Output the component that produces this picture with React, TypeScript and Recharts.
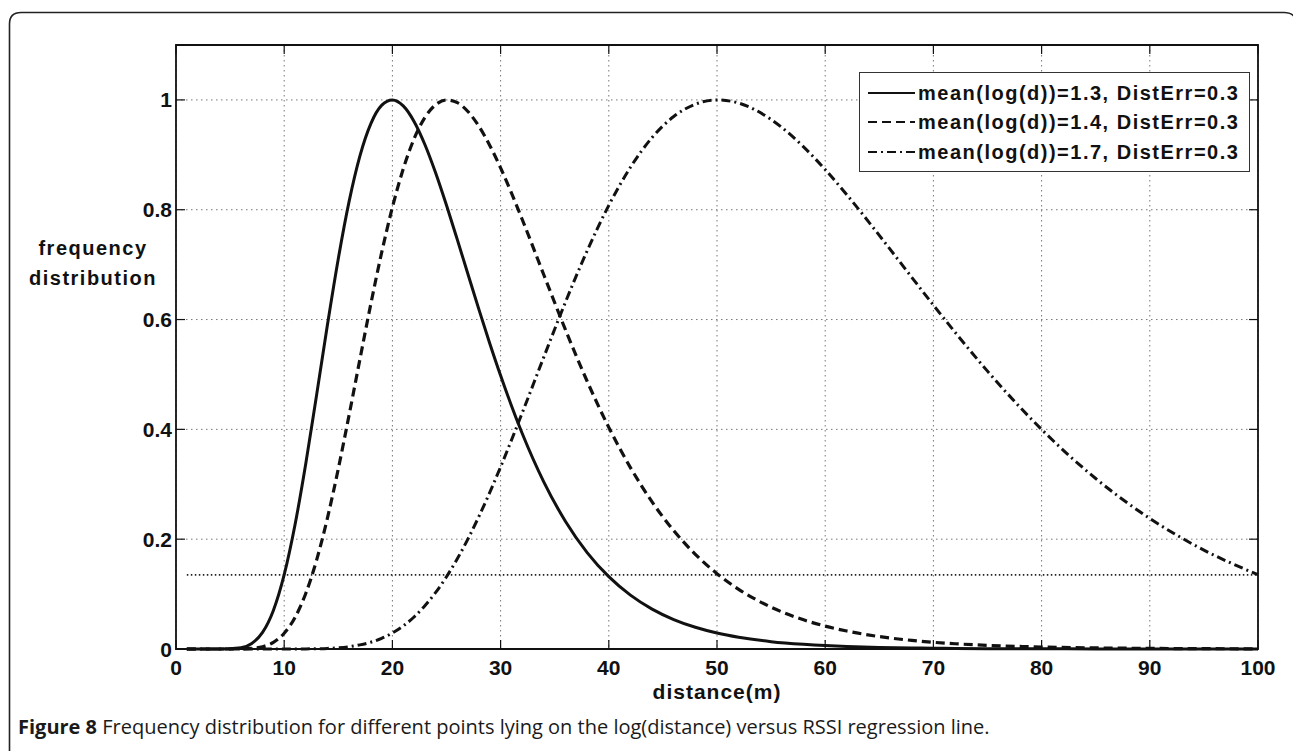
import React from 'react';
import {
  LineChart,
  Line,
  XAxis,
  YAxis,
  CartesianGrid,
  ReferenceArea,
  ReferenceLine,
  Legend,
  Label,
} from 'recharts';

// Sampled distances (m) and the normalised frequency of each curve at those distances
const distance = [
  1, 4, 6, 7, 8, 9, 10, 11, 12, 13, 14, 15, 16, 17, 18, 19, 20, 21, 22, 23, 24, 25, 26, 27, 28, 29, 30,
  32, 34, 36, 38, 40, 42, 44, 46, 48, 50, 52, 55, 58, 60, 62, 65, 68, 70, 72, 75, 78, 80, 85, 90, 95, 100,
];

const meanLog13 = [
  0, 0, 0.0024, 0.0101, 0.0302, 0.0702, 0.1353, 0.2262, 0.3384, 0.4633, 0.5909, 0.7109, 0.8152, 0.8981,
  0.9565, 0.99, 1.0, 0.9891, 0.9608, 0.9188, 0.8668, 0.808, 0.7455, 0.6815, 0.618, 0.5565, 0.498,
  0.3925, 0.304, 0.2323, 0.1756, 0.1317, 0.0981, 0.0727, 0.0537, 0.0396, 0.0291, 0.0214, 0.0134, 0.0085,
  0.0062, 0.0046, 0.0029, 0.0018, 0.0014, 0.001, 0.0006, 0.0004, 0.0003, 0.0002, 0.0001, 0, 0,
];

const meanLog14 = [
  0, 0, 0.0002, 0.0011, 0.0041, 0.0121, 0.0286, 0.0574, 0.1015, 0.1623, 0.2388, 0.3282, 0.4263, 0.5279,
  0.6278, 0.7213, 0.8044, 0.8742, 0.929, 0.968, 0.9913, 0.9999, 0.995, 0.9784, 0.9518, 0.9171, 0.8762,
  0.7822, 0.6811, 0.5811, 0.4876, 0.4036, 0.3304, 0.2679, 0.2156, 0.1724, 0.1372, 0.1087, 0.0762, 0.0531,
  0.0417, 0.0327, 0.0226, 0.0157, 0.0122, 0.0096, 0.0066, 0.0046, 0.0036, 0.002, 0.0011, 0.0006, 0.0003,
];

const meanLog17 = [
  0, 0, 0, 0, 0, 0, 0, 0.0001, 0.0002, 0.0005, 0.0011, 0.0022, 0.0042, 0.0075, 0.0123, 0.0194, 0.0291,
  0.0419, 0.0583, 0.0787, 0.103, 0.1316, 0.1644, 0.2011, 0.2416, 0.2852, 0.3316, 0.4301, 0.532, 0.632,
  0.7253, 0.808, 0.8773, 0.9314, 0.9697, 0.9922, 1.0, 0.9943, 0.9644, 0.9145, 0.8731, 0.8272, 0.7533,
  0.6769, 0.6263, 0.5769, 0.5061, 0.4404, 0.3999, 0.3105, 0.2378, 0.1801, 0.1353,
];

const seriesLabels = [
  'mean(log(d))=1.3, DistErr=0.3',
  'mean(log(d))=1.4, DistErr=0.3',
  'mean(log(d))=1.7, DistErr=0.3',
];

const xTicks = [0, 10, 20, 30, 40, 50, 60, 70, 80, 90, 100];
const yTicks = [0, 0.2, 0.4, 0.6, 0.8, 1];

// horizontal dotted level drawn across the range
const levelValue = 0.135;
const levelFrom = 1;
const levelTo = 100;

const captionBold = 'Figure 8';
const captionText =
  ' Frequency distribution for different points lying on the log(distance) versus RSSI regression line.';

const rows = distance.map((d, i) => ({
  d,
  s13: meanLog13[i],
  s14: meanLog14[i],
  s17: meanLog17[i],
}));

const W = 1293;
const H = 751;
const MARGIN = { top: 45, right: 35, bottom: 101, left: 175 };
const PLOT = {
  left: 176,
  right: W - MARGIN.right,
  top: MARGIN.top,
  bottom: 649,
};

const INK = '#111';
const AXIS_FONT = '"Liberation Sans", Arial, Helvetica, sans-serif';

const seriesStyles = [
  { key: 's13', dash: undefined as string | undefined, width: 3 },
  { key: 's14', dash: '9 5', width: 3.2 },
  { key: 's17', dash: '9 4 2 4', width: 3 },
];

const TICK_LEN = 9;

const XTick = (props: any) => {
  const cx = props.payload?.coordinate ?? props.x;
  const v = props.payload?.value;
  return (
    <g>
      <line x1={cx} x2={cx} y1={PLOT.bottom} y2={PLOT.bottom - TICK_LEN} stroke={INK} strokeWidth={1.2} />
      <line x1={cx} x2={cx} y1={PLOT.top} y2={PLOT.top + TICK_LEN} stroke={INK} strokeWidth={1.2} />
      <text
        x={cx}
        y={PLOT.bottom + 26}
        textAnchor="middle"
        fontFamily={AXIS_FONT}
        fontWeight="bold"
        fontSize={21}
        fill={INK}
      >
        {String(v)}
      </text>
    </g>
  );
};

const YTick = (props: any) => {
  const cy = props.payload?.coordinate ?? props.y;
  const v = props.payload?.value;
  return (
    <g>
      <line x1={PLOT.left} x2={PLOT.left + TICK_LEN} y1={cy} y2={cy} stroke={INK} strokeWidth={1.2} />
      <line x1={PLOT.right} x2={PLOT.right - TICK_LEN} y1={cy} y2={cy} stroke={INK} strokeWidth={1.2} />
      <text
        x={PLOT.left - 4}
        y={cy + 7.5}
        textAnchor="end"
        fontFamily={AXIS_FONT}
        fontWeight="bold"
        fontSize={21}
        fill={INK}
      >
        {String(v)}
      </text>
    </g>
  );
};

const YTitle = () => (
  <text
    fontFamily={AXIS_FONT}
    fontWeight="bold"
    fontSize={20}
    letterSpacing={1.5}
    fill={INK}
    textAnchor="middle"
  >
    <tspan x={93} y={255}>
      frequency
    </tspan>
    <tspan x={93} y={285}>
      distribution
    </tspan>
  </text>
);

const XTitle = () => (
  <text
    x={(PLOT.left + PLOT.right) / 2}
    y={PLOT.bottom + 50}
    textAnchor="middle"
    fontFamily={AXIS_FONT}
    fontWeight="bold"
    fontSize={21}
    letterSpacing={1}
    fill={INK}
  >
    distance(m)
  </text>
);

const LegendBox = () => (
  <div
    style={{
      width: 391,
      height: 100,
      boxSizing: 'border-box',
      border: '1.3px solid #333',
      background: '#fff',
      paddingTop: 5,
    }}
  >
    {seriesLabels.map((label, i) => (
      <div
        key={label}
        style={{ display: 'flex', alignItems: 'center', height: 29.5, paddingLeft: 8 }}
      >
        <svg width={47} height={10} style={{ display: 'block' }}>
          <line
            x1={0}
            y1={5}
            x2={47}
            y2={5}
            stroke={INK}
            strokeWidth={2.2}
            strokeDasharray={seriesStyles[i].dash}
          />
        </svg>
        <span
          style={{
            marginLeft: 3,
            fontFamily: AXIS_FONT,
            fontWeight: 'bold',
            fontSize: 20,
            letterSpacing: 1.5,
            color: INK,
            lineHeight: '20px',
            whiteSpace: 'nowrap',
          }}
        >
          {label}
        </span>
      </div>
    ))}
  </div>
);

export default function App() {
  return (
    <div style={{ position: 'absolute', left: 0, top: 0, width: W, height: H, background: '#fff' }}>
      <LineChart width={W} height={H} data={rows} margin={MARGIN}>
        <CartesianGrid stroke="#777" strokeWidth={1} strokeDasharray="1.5 3.5" />
        <XAxis
          type="number"
          dataKey="d"
          domain={[0, 100]}
          ticks={xTicks}
          height={1}
          axisLine={false}
          tickLine={false}
          tick={<XTick />}
          interval={0}
        >
          <Label content={<XTitle />} />
        </XAxis>
        <YAxis
          type="number"
          domain={[0, 1.1]}
          ticks={yTicks}
          width={1}
          axisLine={false}
          tickLine={false}
          tick={<YTick />}
          interval={0}
        >
          <Label content={<YTitle />} />
        </YAxis>
        <ReferenceArea
          x1={0}
          x2={100}
          y1={0}
          y2={1.1}
          fill="none"
          fillOpacity={0}
          stroke={INK}
          strokeWidth={1.8}
        />
        <ReferenceLine
          segment={[
            { x: levelFrom, y: levelValue },
            { x: levelTo, y: levelValue },
          ]}
          stroke="#222"
          strokeWidth={1.6}
          strokeDasharray="1.5 2.5"
        />
        {seriesStyles.map((s, i) => (
          <Line
            key={s.key}
            type="monotone"
            dataKey={s.key}
            name={seriesLabels[i]}
            stroke={INK}
            strokeWidth={s.width}
            strokeDasharray={s.dash}
            dot={false}
            activeDot={false}
            isAnimationActive={false}
          />
        ))}
        <Legend
          layout="vertical"
          align="center"
          verticalAlign="middle"
          content={<LegendBox />}
          wrapperStyle={{ position: 'absolute', left: 859, top: 72, width: 391, height: 100 }}
        />
      </LineChart>
      <svg
        width={W}
        height={H}
        style={{ position: 'absolute', left: 0, top: 0, pointerEvents: 'none' }}
      >
        <path
          d="M 9.5 760 L 9.5 24 Q 9.5 12.5 21 12.5 L 1284 12.5 Q 1296 12.5 1296 24 L 1296 760"
          fill="none"
          stroke="#222"
          strokeWidth={1.6}
        />
        <text
          x={18}
          y={734}
          fontFamily='"Open Sans", "Noto Sans", sans-serif'
          fontSize={20}
          fill="#1a1a1a"
        >
          <tspan fontWeight="bold">{captionBold}</tspan>
          <tspan>{captionText}</tspan>
        </text>
      </svg>
    </div>
  );
}
